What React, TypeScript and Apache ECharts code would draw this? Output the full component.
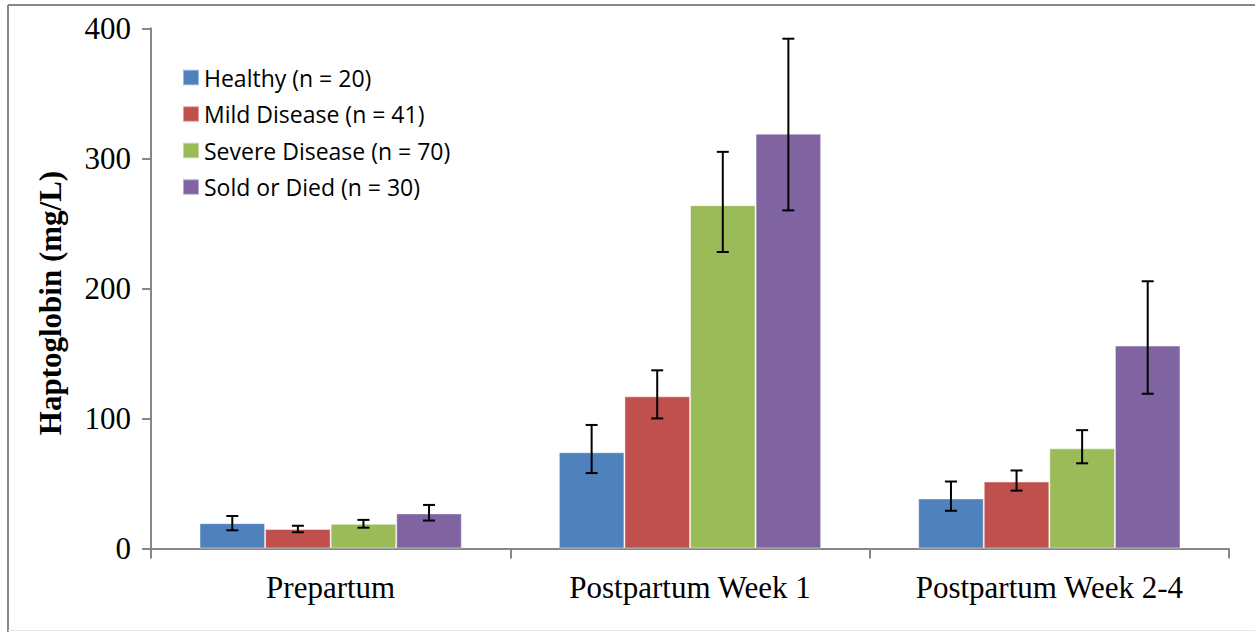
import React, { useEffect, useRef } from "react";
import * as echarts from "echarts";

const categories = ["Prepartum", "Postpartum Week 1", "Postpartum Week 2-4"];
const seriesNames = [
  "Healthy (n = 20)",
  "Mild Disease (n = 41)",
  "Severe Disease (n = 70)",
  "Sold or Died (n = 30)",
];
const seriesColors = ["#4F81BD", "#C0504D", "#9BBB59", "#8064A2"];

const healthy = [19.5, 74, 38.5];
const mild = [15, 117, 51.5];
const severe = [19, 264, 77];
const soldDied = [27, 319, 156];

const healthyLow = [14, 58, 29];
const healthyHigh = [25, 95, 51.5];
const mildLow = [12.5, 100, 44.5];
const mildHigh = [17.5, 137, 60];
const severeLow = [16, 228, 65.5];
const severeHigh = [22, 305, 91];
const soldLow = [21.5, 260, 119];
const soldHigh = [33.5, 392, 205.5];

const yTicks = [0, 100, 200, 300, 400];
const yTitle = "Haptoglobin (mg/L)";

const BAR_GAP = 0.27;

export default function App() {
  const ref = useRef<HTMLDivElement>(null);

  useEffect(() => {
    if (!ref.current) return;
    const chart = echarts.init(ref.current, null, { renderer: "svg" });
    const values = [healthy, mild, severe, soldDied];
    const lows = [healthyLow, mildLow, severeLow, soldLow];
    const highs = [healthyHigh, mildHigh, severeHigh, soldHigh];

    const errData: number[][] = [];
    for (let s = 0; s < 4; s++) {
      for (let c = 0; c < categories.length; c++) {
        errData.push([c, s, lows[s][c], highs[s][c]]);
      }
    }

    const gray = "#868686";
    const serif = "Liberation Serif";

    const option: any = {
      animation: false,
      backgroundColor: "#ffffff",
      grid: { left: 151, right: 26, top: 28.3, bottom: 83.5, containLabel: false },
      legend: {
        orient: "vertical",
        left: 182,
        top: 66,
        padding: 0,
        itemWidth: 16,
        itemHeight: 15.5,
        itemGap: 13.5,
        icon: "rect",
        data: seriesNames,
        textStyle: {
          fontFamily: "Open Sans",
          fontSize: 23,
          color: "#000000",
        },
      },
      xAxis: {
        type: "category",
        data: categories,
        boundaryGap: true,
        axisLine: { show: true, lineStyle: { color: gray, width: 2 } },
        axisTick: { show: true, length: 10, lineStyle: { color: gray, width: 2 } },
        axisLabel: {
          fontFamily: serif,
          fontSize: 31,
          color: "#000000",
          margin: 23,
        },
        splitLine: { show: false },
      },
      yAxis: {
        type: "value",
        min: yTicks[0],
        max: yTicks[yTicks.length - 1],
        interval: 100,
        axisLine: { show: true, lineStyle: { color: gray, width: 2 } },
        axisTick: { show: true, length: 9, lineStyle: { color: gray, width: 2 } },
        axisLabel: {
          fontFamily: serif,
          fontSize: 31,
          color: "#000000",
          margin: 20,
        },
        splitLine: { show: false },
      },
      series: [
        ...values.map((v, i) => ({
          type: "bar",
          name: seriesNames[i],
          data: v,
          barGap: "0%",
          barCategoryGap: BAR_GAP * 100 + "%",
          itemStyle: {
            color: seriesColors[i],
            borderColor: "rgba(255,255,255,0.45)",
            borderWidth: 1,
          },
        })),
        {
          type: "custom",
          name: "errors",
          z: 10,
          encode: { x: 0, y: [2, 3] },
          data: errData,
          renderItem: (params: any, api: any) => {
            const c = api.value(0);
            const s = api.value(1);
            const lo = api.coord([c, api.value(2)]);
            const hi = api.coord([c, api.value(3)]);
            const catW = api.size([1, 0])[0];
            const bw = (catW * (1 - BAR_GAP)) / 4;
            const x = lo[0] + (s - 1.5) * bw;
            const half = 6;
            const style = { stroke: "#000000", lineWidth: 2 };
            return {
              type: "group",
              children: [
                { type: "line", shape: { x1: x, y1: lo[1], x2: x, y2: hi[1] }, style },
                { type: "line", shape: { x1: x - half, y1: lo[1], x2: x + half, y2: lo[1] }, style },
                { type: "line", shape: { x1: x - half, y1: hi[1], x2: x + half, y2: hi[1] }, style },
              ],
            };
          },
        },
      ],
      graphic: [
        {
          type: "line",
          shape: { x1: 8, y1: 5, x2: 1255, y2: 5 },
          style: { stroke: gray, lineWidth: 2 },
        },
        {
          type: "line",
          shape: { x1: 8, y1: 5, x2: 8, y2: 632 },
          style: { stroke: gray, lineWidth: 2 },
        },
        {
          type: "line",
          shape: { x1: 8, y1: 630.5, x2: 1255, y2: 630.5 },
          style: { stroke: "#e6e6e6", lineWidth: 1 },
        },
        {
          type: "text",
          x: 50,
          y: 303,
          rotation: Math.PI / 2,
          style: {
            text: yTitle,
            fontFamily: serif,
            fontSize: 31,
            fontWeight: "bold",
            fill: "#000000",
            textAlign: "center",
            textVerticalAlign: "middle",
          },
        },
      ],
    };

    chart.setOption(option);
    return () => chart.dispose();
  }, []);

  return (
    <div
      ref={ref}
      style={{ position: "fixed", left: 0, top: 0, width: 1255, height: 632 }}
    />
  );
}
